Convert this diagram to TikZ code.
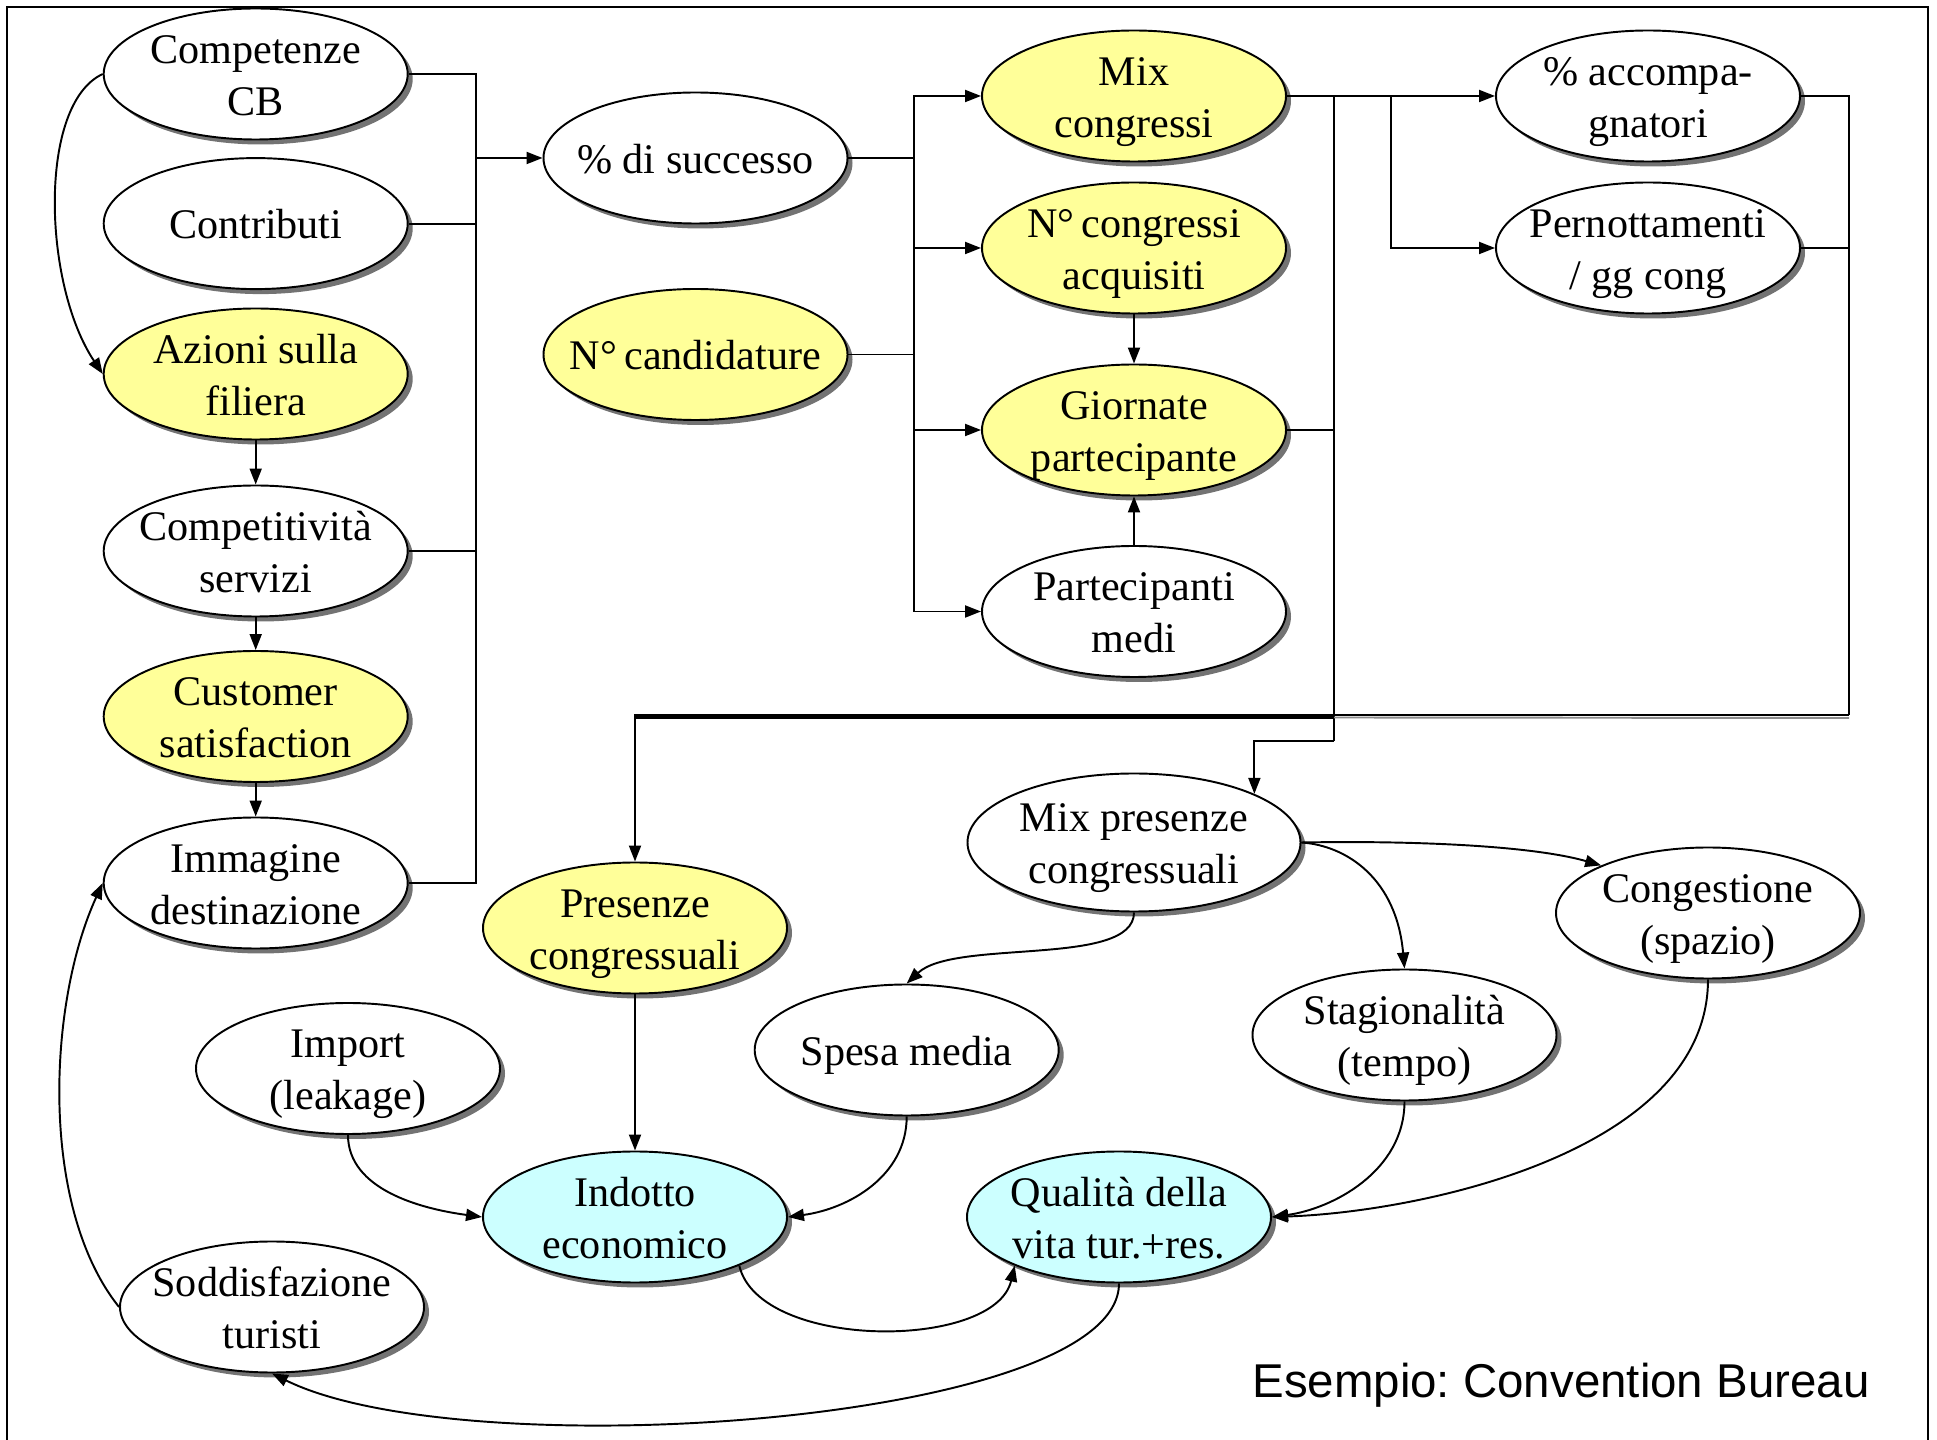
\documentclass[tikz,border=0pt]{standalone}
\usepackage{fontspec}
\setmainfont{Liberation Serif}
\setsansfont{Liberation Sans}
\usetikzlibrary{shapes.geometric,arrows.meta,shadows}
\definecolor{giallo}{HTML}{FFFF99}
\definecolor{ciano}{HTML}{CCFFFF}

\begin{document}
\begin{tikzpicture}[x=0.1mm,y=-0.1mm,
	every node/.style={font=\fontsize{12}{14.7}\selectfont},
	variabile/.style={ellipse,draw,line width=0.55pt,fill=white,
		minimum width=30.4mm,minimum height=13.1mm,inner xsep=-3mm,inner ysep=-2mm,align=center,
		text height=23.4pt,text depth=0pt,
		drop shadow={shadow xshift=0.5mm,shadow yshift=-0.5mm,fill=black!55,opacity=1}},
	unariga/.style={text height=8.7pt,text depth=0pt},
	chiave/.style={variabile,fill=giallo},
	esito/.style={variabile,fill=ciano},
	linea/.style={line width=0.55pt},
	freccia/.style={linea,->},
	ombra/.style={line width=0.55pt,black!45},
	>={Triangle[length=1.6mm,width=1.2mm]}]
		\useasboundingbox (0,0) rectangle (1937,1440);
		\draw[line width=0.6pt] (7,1440) -- (7,7) -- (1928,7) -- (1928,1440);
		
		\node[variabile] (compcb) at (255.7,74) {Competenze\\CB};
		\node[variabile,unariga] (contr) at (255.7,223.6) {Contributi};
		\node[chiave] (azioni) at (255.7,374) {Azioni sulla\\filiera};
		\node[variabile] (compet) at (255.7,551) {Competitività\\servizi};
		\node[chiave] (custsat) at (255.7,716.5) {Customer\\satisfaction};
		\node[variabile] (immag) at (255.7,883) {Immagine\\destinazione};
		\node[variabile,unariga] (succ) at (695.5,158) {\% di successo};
		\node[chiave,unariga] (ncand) at (695.5,354.5) {N°\,candidature};
		\node[chiave] (mixcong) at (1134,96) {Mix\\congressi};
		\node[chiave] (ncong) at (1134,248) {N°\,congressi\\acquisiti};
		\node[chiave] (giorn) at (1134,430) {Giornate\\partecipante};
		\node[variabile] (partmed) at (1134,611.5) {Partecipanti\\medi};
		\node[variabile] (accomp) at (1648,96) {\% accompa-\\gnatori};
		\node[variabile] (pernott) at (1648,248) {Pernottamenti\\/ gg cong};
		
		% Parte bassa
		\node[chiave] (presenze) at (635,928) {Presenze\\congressuali};
		\node[variabile,minimum width=33.3mm,minimum height=13.8mm] (mixpres) at (1134,842.5) {Mix presenze\\congressuali};
		\node[variabile] (congest) at (1708,913) {Congestione\\(spazio)};
		\node[variabile] (stagion) at (1404.5,1035) {Stagionalità\\(tempo)};
		\node[variabile,unariga] (spesa) at (906.7,1050) {Spesa media};
		\node[variabile] (import) at (348,1068.5) {Import\\(leakage)};
		\node[esito] (indotto) at (635,1217) {Indotto\\economico};
		\node[esito] (qualita) at (1119,1217) {Qualità della\\vita tur.+res.};
		\node[variabile] (soddisf) at (272,1307) {Soddisfazione\\turisti};
		\node[font=\sffamily\fontsize{13.5}{16}\selectfont] (titolo) at (1561,1385) {Esempio:\ Convention Bureau};
		
		% Collettori
		\coordinate (busA) at (475.6,158);
		\coordinate (busB) at (914,158);
		\coordinate (busC) at (1391,96);
		\coordinate (busD) at (1334,741);
		\coordinate (busE) at (1849,715);
		\coordinate (busF) at (1334,717.5);
		\coordinate (busG) at (635,717.5);
		\coordinate (busH) at (1849,718);
		
		\draw[linea] (compcb.east) -| (busA);
		\draw[linea] (contr.east) -| (busA);
		\draw[linea] (compet.east) -| (busA);
		\draw[linea] (immag.east) -| (busA);
		\draw[freccia] (busA) -- (succ);
		
		\draw[linea] (succ.east) -- (busB);
		\draw[linea] (ncand.east) -| (busB);
		\draw[freccia] (busB) |- (mixcong);
		\draw[freccia] (busB) |- (ncong);
		\draw[freccia] (busB) |- (giorn);
		\draw[freccia] (busB) |- (partmed);
		\draw[freccia] (ncong) -- (giorn);
		\draw[freccia] (partmed) -- (giorn);
		
		\draw[linea] (mixcong.east) -- (busC);
		\draw[freccia] (busC) -- (accomp);
		\draw[freccia] (busC) |- (pernott);
		\draw[linea] (mixcong.east -| busD) -- (busD);
		\draw[linea] (giorn.east) -| (busD);
		\draw[freccia] (busD) -| (mixpres.22);
		
		\draw[linea] (accomp.east) -| (busE);
		\draw[linea] (pernott.east) -| (busE);
		\draw[ombra] (busH) -- (busF);
		\draw[line width=0.9pt] (busF) -- (busG);
		\draw[freccia] (busE) -| (presenze);
		
		% Catene a sinistra
		\draw[freccia] (azioni) -- (compet);
		\draw[freccia] (compet) -- (custsat);
		\draw[freccia] (custsat) -- (immag);
		\draw[freccia] (compcb.west) .. controls +(-65,30) and +(-60,-90) .. (azioni.west);
		\draw[freccia] (soddisf.west) .. controls +(-80,-100) and +(-55,120) .. (immag.west);
		
		% Curve in basso
		\draw[freccia] (presenze) -- (indotto);
		\draw[freccia] (mixpres.south) .. controls +(0,55) and +(48,-45) .. (spesa.north);
		\draw[freccia] (mixpres.east) .. controls +(45,3) and +(-8,-90) .. (stagion.north);
		\draw[freccia] (mixpres.east) .. controls +(110,-2) and +(-70,-20) .. (congest.156);
		\draw[freccia] (import.south) .. controls +(0,55) and +(-60,-8) .. (indotto.west);
		\draw[freccia] (spesa.south) .. controls +(0,60) and +(60,-8) .. (indotto.east);
		\draw[freccia] (stagion.south) .. controls +(0,70) and +(60,-8) .. (qualita.east);
		\draw[freccia] (congest.south) .. controls +(0,172) and +(150,-5) .. (qualita.east);
		\draw[freccia] (indotto.335) .. controls +(20,85) and +(-20,85) .. (qualita.205);
		\draw[freccia] (qualita.south) .. controls +(0,140) and +(192,95) .. (soddisf.south);
\end{tikzpicture}
\end{document}
